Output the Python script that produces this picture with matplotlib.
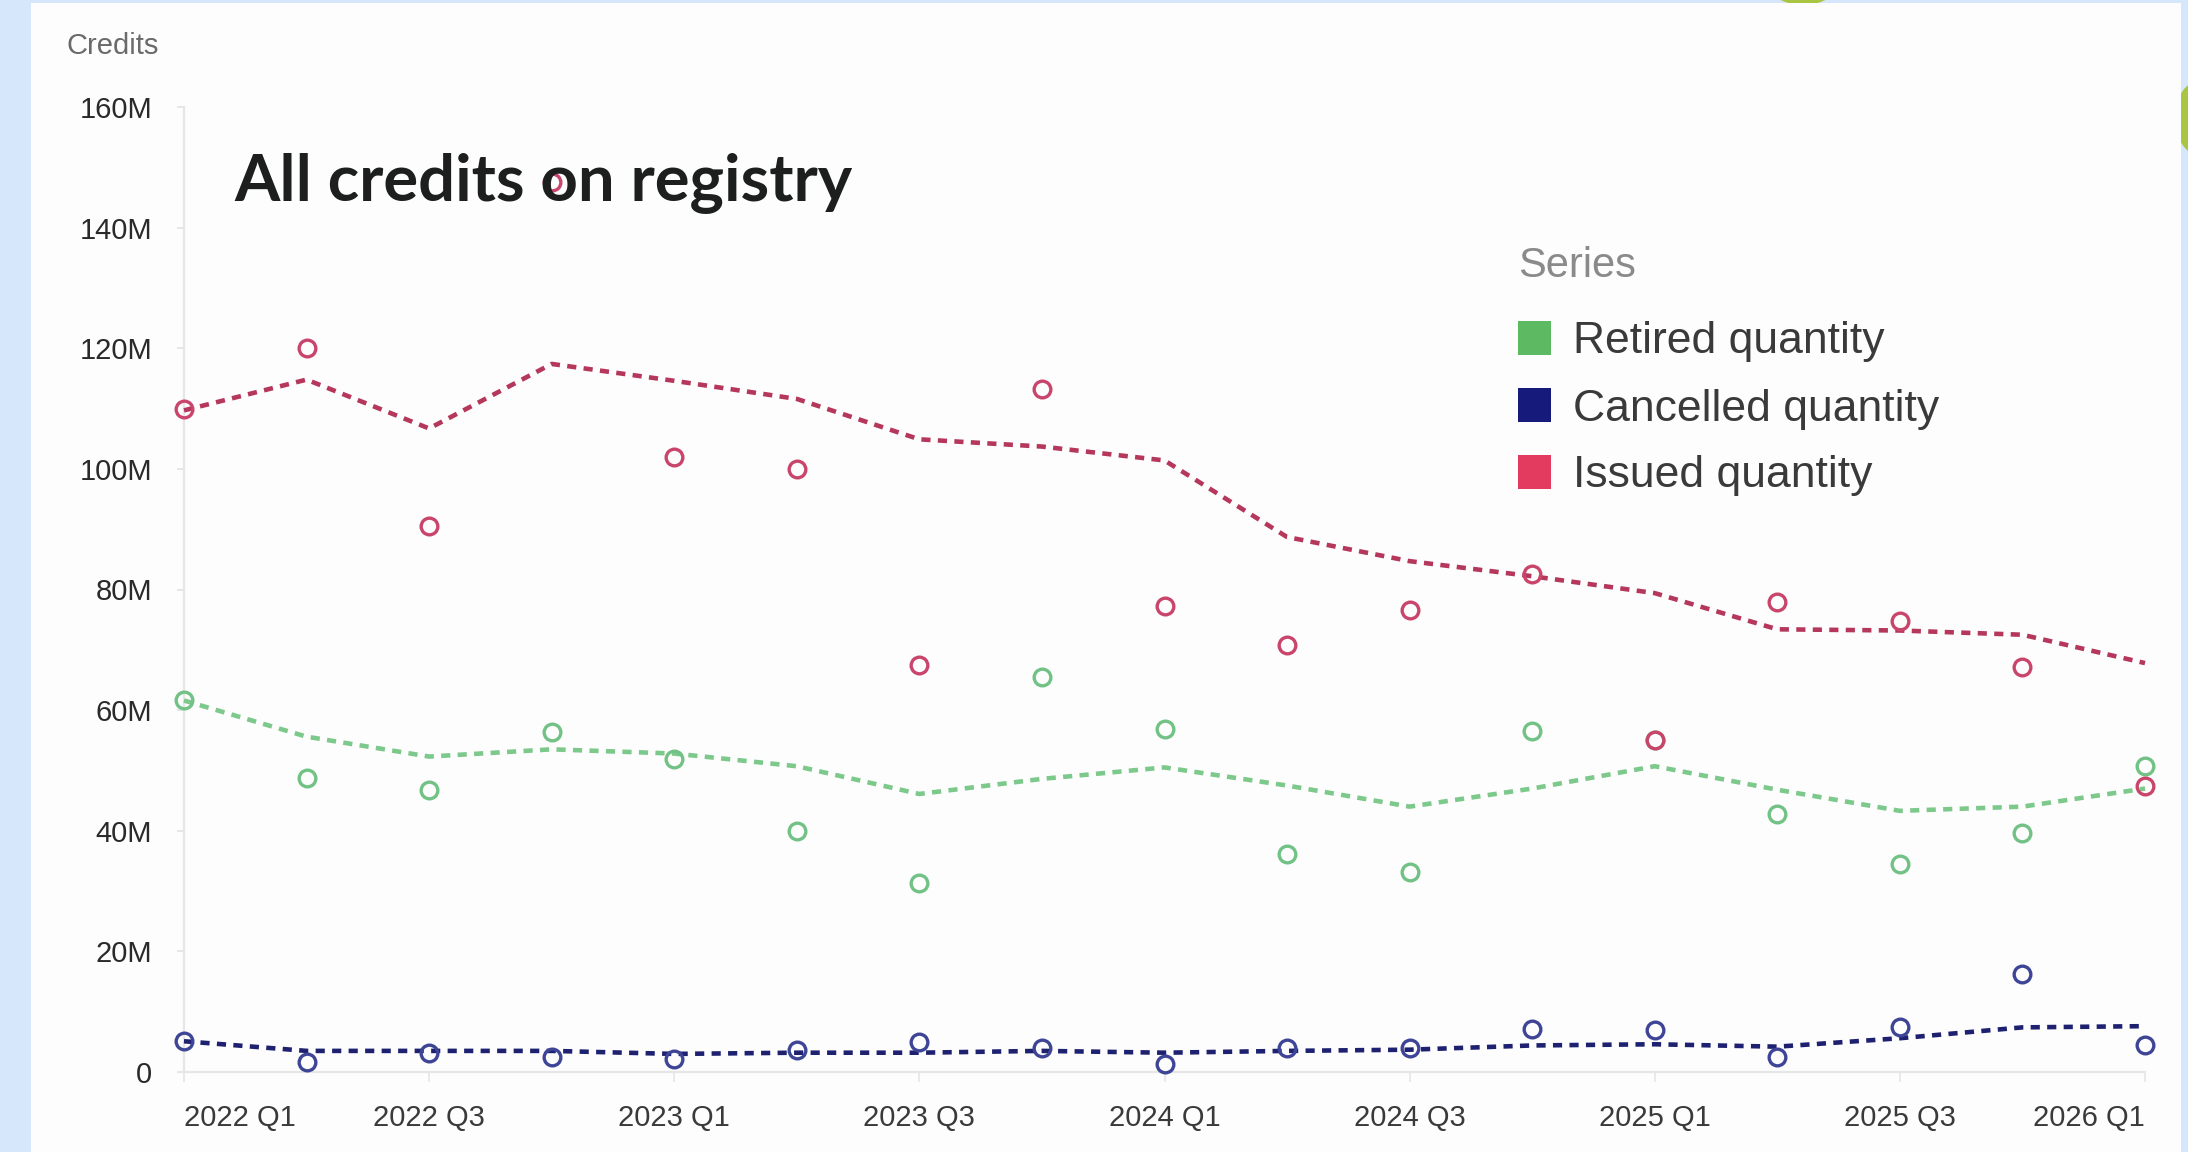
import matplotlib
matplotlib.use("Agg")
import matplotlib.pyplot as plt
from matplotlib.patches import Rectangle, Ellipse
import numpy as np

# Quarter labels (17 quarters, 2022 Q1 .. 2026 Q1)
quarters = ["2022 Q1", "2022 Q2", "2022 Q3", "2022 Q4",
            "2023 Q1", "2023 Q2", "2023 Q3", "2023 Q4",
            "2024 Q1", "2024 Q2", "2024 Q3", "2024 Q4",
            "2025 Q1", "2025 Q2", "2025 Q3", "2025 Q4",
            "2026 Q1"]
tick_labels = ["2022 Q1", "2022 Q3", "2023 Q1", "2023 Q3", "2024 Q1",
               "2024 Q3", "2025 Q1", "2025 Q3", "2026 Q1"]

# Quarterly values, millions of credits
issued = [110, 120, 90.5, 147.5, 102, 100, 67.4, 113.2, 77.3, 70.8, 76.6,
          82.6, 55.1, 78.0, 74.8, 67.1, 47.5]
issued_trend = [109.7, 114.8, 106.7, 117.4, 114.6, 111.6, 104.9, 103.7,
                101.4, 88.7, 84.7, 82.2, 79.4, 73.4, 73.2, 72.5, 67.8]

retired = [61.6, 48.8, 46.8, 56.3, 51.9, 40.0, 31.3, 65.5, 56.9, 36.1,
           33.1, 56.5, 55.1, 42.8, 34.5, 39.6, 50.7]
retired_trend = [61.6, 55.6, 52.3, 53.5, 52.8, 50.7, 46.1, 48.6, 50.5,
                 47.5, 44.0, 47.0, 50.7, 46.8, 43.3, 44.0, 47.0]

cancelled = [5.1, 1.6, 3.2, 2.5, 2.1, 3.7, 4.9, 3.9, 1.4, 3.9, 3.9, 7.2,
             6.9, 2.5, 7.4, 16.2, 4.4]
cancelled_trend = [5.1, 3.5, 3.5, 3.5, 3.0, 3.2, 3.2, 3.5, 3.2, 3.5, 3.7,
                   4.4, 4.6, 4.2, 5.6, 7.4, 7.6]

yticks = [0, 20, 40, 60, 80, 100, 120, 140, 160]
ytick_labels = ["0", "20M", "40M", "60M", "80M", "100M", "120M", "140M", "160M"]

series_names = ["Retired quantity", "Cancelled quantity", "Issued quantity"]
swatch_colors = ["#5dba62", "#161a7a", "#e23b5f"]

tick_font = ["Liberation Sans", "DejaVu Sans"]

W, H = 2188, 1152
fig = plt.figure(figsize=(W / 100, H / 100), dpi=100)
fig.patch.set_facecolor("#d6e7fb")

# White card behind the chart
fig.patches.append(Rectangle((31 / W, 0), (2181 - 31) / W, 1 - 3 / H,
                             transform=fig.transFigure, facecolor="#fdfdfd",
                             edgecolor="none", zorder=-2))
# Green decorative blobs at the card edges
fig.patches.append(Ellipse((1803 / W, 1 + 20 / H), 75 / W, 50 / H,
                           transform=fig.transFigure, facecolor="#a9c543",
                           edgecolor="none", zorder=-3))
fig.patches.append(Ellipse((2200 / W, 1 - 118 / H), 50 / W, 75 / H,
                           transform=fig.transFigure, facecolor="#a9c543",
                           edgecolor="none", zorder=-3))

ax = fig.add_axes([184 / W, 1 - 1072 / H, (2145 - 184) / W, (1072 - 107) / H])
ax.set_facecolor("none")

x = np.arange(len(quarters))

dash = dict(linestyle=(0, (2.0, 1.6)), linewidth=3.3, dash_capstyle="butt")
ax.plot(x, issued_trend, color="#b5375b", zorder=3, clip_on=False, **dash)
ax.plot(x, retired_trend, color="#7dc98b", zorder=3, clip_on=False, **dash)
ax.plot(x, cancelled_trend, color="#1d2170", zorder=3, clip_on=False, **dash)

mk = dict(linestyle="none", marker="o", markersize=12, markeredgewidth=2.4,
          markerfacecolor="none", clip_on=False, zorder=4)
ax.plot(x, retired, markeredgecolor="#72c286", **mk)
ax.plot(x, issued, markeredgecolor="#c9456b", **mk)
ax.plot(x, cancelled, markeredgecolor="#3f4596", **mk)

ax.set_xlim(0, len(quarters) - 1)
ax.set_ylim(0, 160)

ax.set_yticks(yticks)
ax.set_yticklabels(ytick_labels, family=tick_font, fontsize=21, color="#2a2a2a")
tick_pos = [quarters.index(t) for t in tick_labels]
ax.set_xticks(tick_pos)
ax.set_xticklabels(tick_labels, family=tick_font, fontsize=21, color="#3a3a3a")
labels = ax.get_xticklabels()
labels[0].set_horizontalalignment("left")
labels[-1].set_horizontalalignment("right")

ax.tick_params(axis="y", length=5, width=1.2, color="#e2e2e2", pad=18)
ax.tick_params(axis="x", length=7, width=1.2, color="#e6e6e6", pad=16)

for side in ["top", "right"]:
    ax.spines[side].set_visible(False)
for side in ["left", "bottom"]:
    ax.spines[side].set_color("#e6e6e6")
    ax.spines[side].set_linewidth(1.6)

# Axis caption and title
fig.text(67 / W, 1 - 46 / H, "Credits", family=tick_font, fontsize=21,
         color="#6a6a6a", ha="left", va="center")
fig.text(234 / W, 1 - 183 / H, "All credits on registry", family="Lato",
         fontweight="bold", fontsize=47, color="#1c1f1e", ha="left",
         va="center", zorder=10)

# Series legend
fig.text(1518 / W, 1 - 266 / H, "Series", family=tick_font, fontsize=30,
         color="#8a8a8a", ha="left", va="center")
legend_y = [338, 405, 472]
for name, col, yy in zip(series_names, swatch_colors, legend_y):
    fig.patches.append(Rectangle((1518 / W, 1 - (yy + 17) / H), 33 / W, 34 / H,
                                 transform=fig.transFigure, facecolor=col,
                                 edgecolor="none", zorder=5))
    fig.text(1573 / W, 1 - (yy + 4) / H, name, family=tick_font, fontsize=32,
             color="#3a3a3a", ha="left", va="center")

fig.savefig("out.png", dpi=100, facecolor=fig.get_facecolor())
